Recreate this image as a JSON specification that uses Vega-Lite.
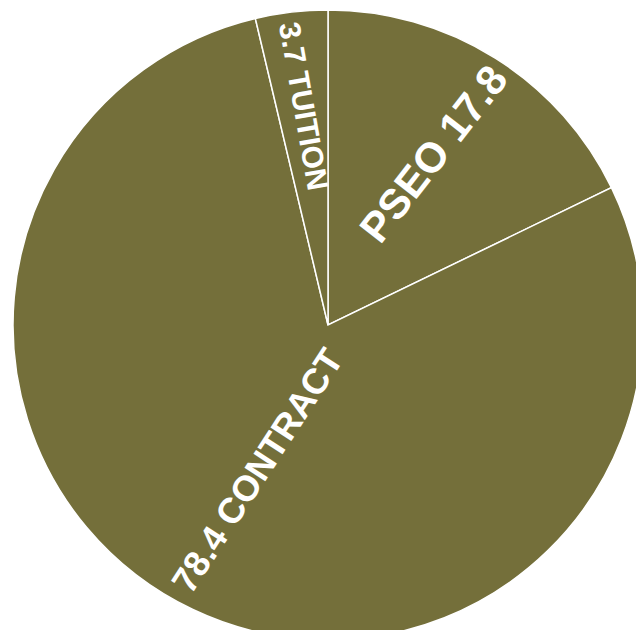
{
  "$schema": "https://vega.github.io/schema/vega-lite/v6.json",
  "width": 616,
  "height": 610,
  "autosize": "none",
  "padding": {"left": 20, "top": 20, "right": 0, "bottom": 0},
  "background": "white",
  "view": {"stroke": null},
  "data": {
    "values": [
      {"category": "PSEO", "value": 17.8, "rank": 1, "label": "PSEO 17.8"},
      {"category": "CONTRACT", "value": 78.4, "rank": 2, "label": "78.4 CONTRACT"},
      {"category": "TUITION", "value": 3.7, "rank": 3, "label": "3.7 TUITION"}
    ]
  },
  "encoding": {
    "theta": {"field": "value", "type": "quantitative", "stack": true},
    "order": {"field": "rank", "type": "quantitative"},
    "detail": {"field": "category", "type": "nominal"}
  },
  "layer": [
    {
      "mark": {"type": "arc", "outerRadius": 315, "fill": "#746f3a", "stroke": "white", "strokeWidth": 1.5}
    },
    {
      "mark": {"type": "text", "radius": 201, "angle": -52, "fontSize": 42, "fontWeight": "bold", "font": "Liberation Sans", "fill": "white", "align": "center", "baseline": "middle"},
      "encoding": {"text": {"condition": {"test": "datum.category === 'PSEO'", "field": "label", "type": "nominal"}, "value": ""}}
    },
    {
      "mark": {"type": "text", "radius": 162, "angle": -57, "fontSize": 36, "fontWeight": "bold", "font": "Liberation Sans", "fill": "white", "align": "center", "baseline": "middle"},
      "encoding": {"text": {"condition": {"test": "datum.category === 'CONTRACT'", "field": "label", "type": "nominal"}, "value": ""}}
    },
    {
      "mark": {"type": "text", "radius": 220, "angle": 80, "fontSize": 30, "fontWeight": "bold", "font": "Liberation Sans", "fill": "white", "align": "center", "baseline": "middle"},
      "encoding": {"text": {"condition": {"test": "datum.category === 'TUITION'", "field": "label", "type": "nominal"}, "value": ""}}
    }
  ]
}
